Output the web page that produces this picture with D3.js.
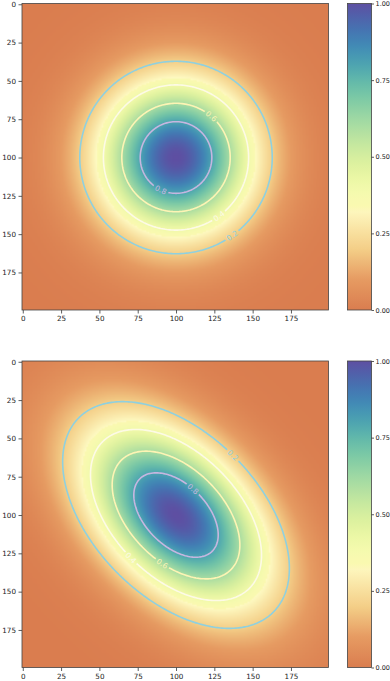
<!DOCTYPE html>
<html>
<head>
<meta charset="utf-8">
<script src="https://cdn.jsdelivr.net/npm/d3@7"></script>
<style>
body{margin:0;background:#fff;}
svg{display:block;font-family:"DejaVu Sans",sans-serif;}
</style>
</head>
<body>
<svg id="fig" width="390" height="681"></svg>
<script>
// grid and gaussian parameters
const gridSize = 200;
const centers = [[100, 100], [100, 100]];
const sigmas = [[35, 35], [50, 30]];   // major, minor
const angles = [0, 45];                // degrees, rotation of major axis
const levels = [0.2, 0.4, 0.6, 0.8];
const levelColors = ["#8fd0df", "#fdfae6", "#fdf4b4", "#c6b6e0"];
const tickValues = [0, 25, 50, 75, 100, 125, 150, 175];
const cbarTicks = [0, 0.25, 0.5, 0.75, 1];
// where each contour label sits (data coords), one list per panel
const labelSpots = [
    [[137, 152], [128, 139], [123, 73], [90, 121]],
    [[136, 63], [72, 127], [91, 131], [111, 84]]
];

const axL = 22, axW = 306.5;
const tops = [3.5, 361];
const cbX = 347.5, cbW = 24;
const fontSize = 7.2;

// colormap: warm end then Spectral
const lowStops = [[0, "#da7d4f"], [0.1, "#e69b62"], [0.2, "#f4cf88"], [0.333, "#fefac2"]];
function cmap(v) {
    v = Math.max(0, Math.min(1, v));
    if (v < 0.333) {
        for (let i = 0; i < lowStops.length - 1; i++) {
            if (v <= lowStops[i + 1][0]) {
                let t = (v - lowStops[i][0]) / (lowStops[i + 1][0] - lowStops[i][0]);
                return d3.interpolateRgb(lowStops[i][1], lowStops[i + 1][1])(t);
            }
        }
    }
    return d3.interpolateSpectral(0.25 + 0.75 * v);
}

function makeGrid(k) {
    let vals = new Float64Array(gridSize * gridSize);
    let [cx, cy] = centers[k];
    let [s1, s2] = sigmas[k];
    let a = angles[k] * Math.PI / 180;
    for (let j = 0; j < gridSize; j++) {
        for (let i = 0; i < gridSize; i++) {
            let dx = i - cx, dy = j - cy;
            let u = dx * Math.cos(a) + dy * Math.sin(a);
            let w = -dx * Math.sin(a) + dy * Math.cos(a);
            vals[j * gridSize + i] = Math.exp(-0.5 * (u * u / (s1 * s1) + w * w / (s2 * s2)));
        }
    }
    return vals;
}

function gridImage(vals) {
    let canvas = document.createElement("canvas");
    canvas.width = gridSize; canvas.height = gridSize;
    let ctx = canvas.getContext("2d");
    let img = ctx.createImageData(gridSize, gridSize);
    for (let p = 0; p < vals.length; p++) {
        let c = d3.rgb(cmap(vals[p]));
        img.data[p * 4] = c.r; img.data[p * 4 + 1] = c.g; img.data[p * 4 + 2] = c.b; img.data[p * 4 + 3] = 255;
    }
    ctx.putImageData(img, 0, 0);
    return canvas.toDataURL();
}

let svg = d3.select("#fig");
let defs = svg.append("defs");

tops.forEach(function (top, k) {
    let x = d3.scaleLinear().domain([-0.5, gridSize - 0.5]).range([axL, axL + axW]);
    let y = d3.scaleLinear().domain([-0.5, gridSize - 0.5]).range([top, top + axW]);
    let vals = makeGrid(k);

    defs.append("clipPath").attr("id", "clip" + k)
        .append("rect").attr("x", axL).attr("y", top).attr("width", axW).attr("height", axW);

    svg.append("image")
        .attr("href", gridImage(vals))
        .attr("x", axL).attr("y", top)
        .attr("width", axW).attr("height", axW)
        .attr("preserveAspectRatio", "none");

    // contours (d3 grid coords are cell corners, shift by 0.5)
    let conts = d3.contours().size([gridSize, gridSize]).smooth(true).thresholds(levels)(Array.from(vals));
    let proj = d3.geoTransform({
        point: function (px, py) { this.stream.point(x(px - 0.5), y(py - 0.5)); }
    });
    let path = d3.geoPath(proj);

    let mask = defs.append("mask").attr("id", "mask" + k).attr("maskUnits", "userSpaceOnUse")
        .attr("x", 0).attr("y", 0).attr("width", 390).attr("height", 681);
    mask.append("rect").attr("width", 390).attr("height", 681).attr("fill", "white");

    let labels = [];
    conts.forEach(function (c, li) {
        // pick the contour vertex nearest to the wanted label spot
        let spot = labelSpots[k][li];
        let best = null, bestD = Infinity;
        c.coordinates.forEach(function (poly) {
            poly.forEach(function (ring) {
                ring.forEach(function (pt, idx) {
                    let d = (pt[0] - 0.5 - spot[0]) ** 2 + (pt[1] - 0.5 - spot[1]) ** 2;
                    if (d < bestD) { bestD = d; best = { ring: ring, idx: idx }; }
                });
            });
        });
        if (!best) return;
        let n = best.ring.length;
        let p0 = best.ring[(best.idx - 3 + n) % n], p1 = best.ring[(best.idx + 3) % n], pm = best.ring[best.idx];
        let ang = Math.atan2(y(p1[1]) - y(p0[1]), x(p1[0]) - x(p0[0])) * 180 / Math.PI;
        if (ang > 90) ang -= 180;
        if (ang < -90) ang += 180;
        let lx = x(pm[0] - 0.5), ly = y(pm[1] - 0.5);
        labels.push({ x: lx, y: ly, a: ang, text: d3.format(".1f")(levels[li]), color: levelColors[li] });
        mask.append("rect")
            .attr("x", -8).attr("y", -4).attr("width", 16).attr("height", 8)
            .attr("fill", "black")
            .attr("transform", "translate(" + lx + "," + ly + ") rotate(" + ang + ")");
    });

    let cg = svg.append("g").attr("clip-path", "url(#clip" + k + ")");
    cg.append("g").attr("mask", "url(#mask" + k + ")")
        .selectAll("path").data(conts).join("path")
        .attr("d", path)
        .attr("fill", "none")
        .attr("stroke", (d, i) => levelColors[i])
        .attr("stroke-width", 1.6);

    cg.selectAll("text.clabel").data(labels).join("text")
        .attr("class", "clabel")
        .attr("transform", d => "translate(" + d.x + "," + d.y + ") rotate(" + d.a + ")")
        .attr("text-anchor", "middle")
        .attr("dy", "0.35em")
        .attr("font-size", 7.5)
        .attr("fill", d => d.color)
        .text(d => d.text);

    // axes
    let xa = svg.append("g").attr("transform", "translate(0," + (top + axW) + ")")
        .call(d3.axisBottom(x).tickValues(tickValues).tickSize(3.5).tickPadding(2.5));
    let ya = svg.append("g").attr("transform", "translate(" + axL + ",0)")
        .call(d3.axisLeft(y).tickValues(tickValues).tickSize(3.5).tickPadding(2.5));
    [xa, ya].forEach(function (g) {
        g.select(".domain").remove();
        g.selectAll("line").attr("stroke", "#333").attr("stroke-width", 0.8);
        g.selectAll("text").attr("font-size", fontSize).attr("fill", "#222").attr("font-family", "DejaVu Sans");
    });
    svg.append("rect").attr("x", axL).attr("y", top).attr("width", axW).attr("height", axW)
        .attr("fill", "none").attr("stroke", "#444").attr("stroke-width", 0.8);

    // colorbar
    let cy = d3.scaleLinear().domain([0, 1]).range([top + axW, top]);
    let gradId = "grad" + k;
    let grad = defs.append("linearGradient").attr("id", gradId)
        .attr("x1", 0).attr("y1", 1).attr("x2", 0).attr("y2", 0);
    d3.range(0, 1.0001, 0.02).forEach(function (t) {
        grad.append("stop").attr("offset", t).attr("stop-color", cmap(t));
    });
    svg.append("rect").attr("x", cbX).attr("y", top).attr("width", cbW).attr("height", axW)
        .attr("fill", "url(#" + gradId + ")").attr("stroke", "#444").attr("stroke-width", 0.8);
    let ca = svg.append("g").attr("transform", "translate(" + (cbX + cbW) + ",0)")
        .call(d3.axisRight(cy).tickValues(cbarTicks).tickFormat(d3.format(".2f")).tickSize(2.5).tickPadding(1.5));
    ca.select(".domain").remove();
    ca.selectAll("line").attr("stroke", "#333").attr("stroke-width", 0.8);
    ca.selectAll("text").attr("font-size", 6.5).attr("fill", "#222").attr("font-family", "DejaVu Sans");
});
</script>
</body>
</html>
